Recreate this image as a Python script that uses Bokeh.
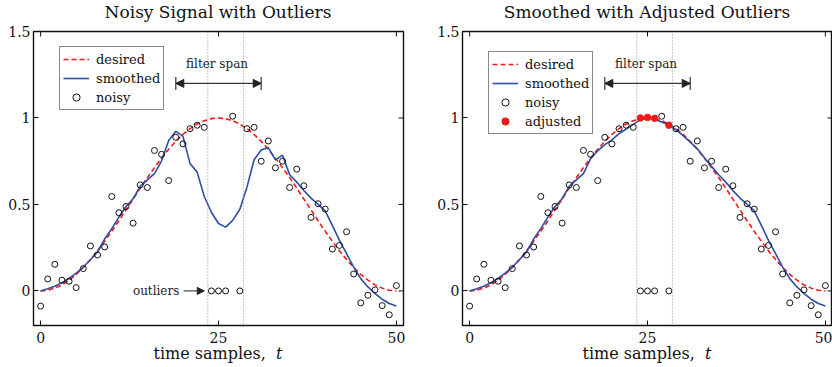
from bokeh.plotting import figure
from bokeh.layouts import row, column
from bokeh.models import (ColumnDataSource, Span, Label, Arrow, NormalHead, TeeHead,
                          Legend, LegendItem, FixedTicker, Div)
from bokeh.embed import file_html
from bokeh.resources import INLINE

t = list(range(51))
noisy = [-0.088, 0.069, 0.154, 0.062, 0.056, 0.019, 0.129, 0.26, 0.208, 0.254,
         0.546, 0.452, 0.488, 0.392, 0.613, 0.598, 0.812, 0.79, 0.638, 0.888,
         0.85, 0.938, 0.958, 0.946, 0.0, 0.0, 0.0, 1.01, 0.0, 0.938,
         0.946, 0.75, 0.867, 0.712, 0.75, 0.598, 0.704, 0.608, 0.425, 0.504,
         0.473, 0.242, 0.263, 0.342, 0.098, -0.069, -0.025, 0.006, -0.085, -0.138,
         0.031]
desired = [0.0, 0.004, 0.016, 0.035, 0.062, 0.095, 0.136, 0.181, 0.232, 0.287,
           0.345, 0.406, 0.469, 0.531, 0.594, 0.655, 0.713, 0.768, 0.819, 0.865,
           0.905, 0.938, 0.965, 0.984, 0.996, 1.0, 0.996, 0.984, 0.965, 0.938,
           0.905, 0.865, 0.819, 0.768, 0.713, 0.655, 0.594, 0.531, 0.469, 0.406,
           0.345, 0.287, 0.232, 0.181, 0.136, 0.095, 0.062, 0.035, 0.016, 0.004,
           0.0]
smoothed_left = [0.0, 0.012, 0.027, 0.048, 0.072, 0.103, 0.138, 0.18, 0.225, 0.30,
                 0.36, 0.427, 0.488, 0.533, 0.604, 0.642, 0.678, 0.752, 0.87, 0.923,
                 0.895, 0.736, 0.687, 0.546, 0.455, 0.39, 0.369, 0.408, 0.472, 0.60,
                 0.758, 0.815, 0.829, 0.758, 0.785, 0.672, 0.629, 0.58, 0.537, 0.5,
                 0.463, 0.379, 0.292, 0.215, 0.138, 0.071, 0.023, -0.015, -0.048, -0.073,
                 -0.087]
smoothed_right = [0.0, 0.012, 0.027, 0.048, 0.072, 0.103, 0.138, 0.18, 0.225, 0.30,
                  0.36, 0.427, 0.488, 0.533, 0.604, 0.642, 0.678, 0.765, 0.81, 0.846,
                  0.873, 0.91, 0.935, 0.963, 0.99, 1.0, 0.993, 0.977, 0.96, 0.932,
                  0.898, 0.86, 0.822, 0.77, 0.72, 0.672, 0.629, 0.58, 0.537, 0.5,
                  0.463, 0.379, 0.292, 0.215, 0.138, 0.071, 0.023, -0.015, -0.048, -0.073,
                  -0.087]
adjusted_t = [24, 25, 26, 28]
adjusted_y = [1.0, 1.003, 0.998, 0.958]

x_lim = (-1, 51)
y_lim = (-0.2, 1.5)
x_ticks = [0, 25, 50]
y_ticks = [0, 0.5, 1, 1.5]
y_tick_labels = {0: "0", 0.5: "0.5", 1: "1", 1.5: "1.5"}
span_lines = [23.5, 28.5]
filter_span = (19, 31)
filter_y = 1.2

FONT = "DejaVu Serif"
RED = "#f01818"
BLUE = "#2d4ea6"
INK = "#111111"
FW, FH = 370, 294
TICK = 5
TITLE_H = 22


def make_fig(smoothed, left_b, right_b, legend_xy, with_adjusted, with_outlier_note):
    p = figure(frame_width=FW, frame_height=FH, x_range=x_lim, y_range=y_lim,
               output_backend="svg", toolbar_location=None,
               min_border_left=left_b, min_border_right=right_b,
               min_border_top=31 - TITLE_H, min_border_bottom=21)
    p.grid.visible = False
    p.outline_line_color = INK
    p.outline_line_width = 1.4

    p.xaxis.ticker = FixedTicker(ticks=x_ticks)
    p.yaxis.ticker = FixedTicker(ticks=y_ticks)
    p.yaxis.major_label_overrides = y_tick_labels
    for ax in p.axis:
        ax.axis_line_color = None
        ax.major_tick_in = TICK
        ax.major_tick_out = 0
        ax.minor_tick_line_color = None
        ax.major_tick_line_color = INK
        ax.major_label_text_font = FONT
        ax.major_label_text_font_size = "14px"
        ax.major_label_text_color = INK
    p.xaxis.major_label_standoff = 6
    p.yaxis.major_label_standoff = 3

    # mirrored ticks on the top and right of the box
    dx = (x_lim[1] - x_lim[0]) / FW * TICK
    dy = (y_lim[1] - y_lim[0]) / FH * TICK
    p.segment(x0=x_ticks, y0=[y_lim[1]] * len(x_ticks), x1=x_ticks,
              y1=[y_lim[1] - dy] * len(x_ticks), line_color=INK, line_width=1)
    p.segment(x0=[x_lim[1]] * len(y_ticks), y0=y_ticks, x1=[x_lim[1] - dx] * len(y_ticks),
              y1=y_ticks, line_color=INK, line_width=1)

    for loc in span_lines:
        p.add_layout(Span(location=loc, dimension="height", line_color="#888888",
                          line_dash="1 2", line_width=1))

    src = ColumnDataSource(dict(t=t, noisy=noisy, desired=desired, smoothed=smoothed))
    r_des = p.line("t", "desired", source=src, line_color=RED, line_width=1.6, line_dash="5 3")
    r_sm = p.line("t", "smoothed", source=src, line_color=BLUE, line_width=1.6)
    r_noisy = p.scatter("t", "noisy", source=src, size=6, fill_color=None,
                        line_color=INK, line_width=1)
    items = [LegendItem(label="desired", renderers=[r_des]),
             LegendItem(label="smoothed", renderers=[r_sm]),
             LegendItem(label="noisy", renderers=[r_noisy])]
    if with_adjusted:
        r_adj = p.scatter(adjusted_t, adjusted_y, size=6.5, fill_color=RED, line_color=RED)
        items.append(LegendItem(label="adjusted", renderers=[r_adj]))

    # filter span annotation
    p.add_layout(Arrow(x_start=filter_span[0], x_end=filter_span[1], y_start=filter_y, y_end=filter_y,
                       line_color="#333333", line_width=1,
                       start=TeeHead(size=13, line_color="#333333", line_width=1.2),
                       end=TeeHead(size=13, line_color="#333333", line_width=1.2)))
    p.add_layout(Arrow(x_start=filter_span[0], x_end=filter_span[1], y_start=filter_y, y_end=filter_y,
                       line_color="#333333", line_width=1,
                       start=NormalHead(size=8, fill_color="#222222", line_color="#222222"),
                       end=NormalHead(size=8, fill_color="#222222", line_color="#222222")))
    p.add_layout(Label(x=(filter_span[0] + filter_span[1]) / 2 - 0.2, y=1.31, text="filter span",
                       text_font=FONT, text_font_size="12px", text_align="center",
                       text_baseline="middle", text_color="#222222"))

    if with_outlier_note:
        p.add_layout(Label(x=19.5, y=0, text="outliers", text_font=FONT, text_font_size="12px",
                           text_align="right", text_baseline="middle", text_color="#222222"))
        p.add_layout(Arrow(x_start=20.1, x_end=23.0, y_start=0, y_end=0, line_color="#222222",
                           line_width=1, end=NormalHead(size=7, fill_color="#222222",
                                                        line_color="#222222")))

    legend = Legend(items=items, location=legend_xy, label_text_font=FONT,
                    label_text_font_size="13px", label_text_color=INK,
                    glyph_width=26, glyph_height=18, label_height=18, spacing=1,
                    padding=3, margin=0, label_standoff=7,
                    border_line_color=INK, border_line_width=1.5,
                    background_fill_alpha=1)
    p.add_layout(legend)
    return p


def title_div(text, left_pad):
    html = ('<div style="width:%dpx;margin-left:%dpx;margin-top:3px;text-align:center;'
            'font-family:\'DejaVu Serif\';font-size:17px;line-height:19px;color:#111111;'
            'white-space:nowrap">%s</div>') % (FW, left_pad, text)
    return Div(text=html, width=FW + left_pad, height=TITLE_H, margin=(0, 0, 0, 0))


def xlabel(left_pad):
    html = ('<div style="width:%dpx;margin-left:%dpx;text-align:center;'
            'font-family:\'DejaVu Serif\';font-size:16px;line-height:16px;color:#111111;'
            'white-space:nowrap">time samples,&nbsp; <i>t</i></div>') % (FW, left_pad)
    return Div(text=html, width=FW + left_pad, height=16, margin=(0, 0, 0, 0))


p1 = make_fig(smoothed_left, 33, 17, (26, 215), False, True)
p2 = make_fig(smoothed_right, 42, 0, (26, 191), True, False)
layout = row(column(title_div("Noisy Signal with Outliers", 33), p1, xlabel(33)),
             column(title_div("Smoothed with Adjusted Outliers", 42), p2, xlabel(42)))
open("out.html", "w").write(file_html(layout, INLINE))
